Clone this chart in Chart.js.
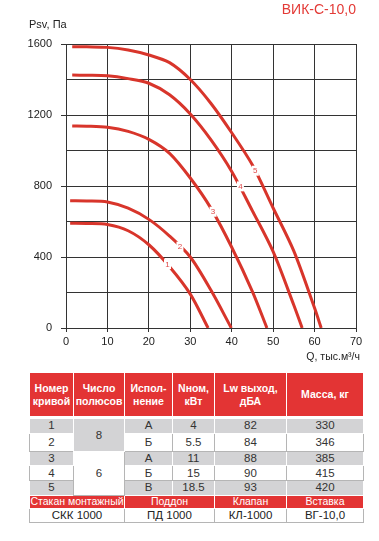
<!DOCTYPE html>
<html><head><meta charset="utf-8">
<script src="https://cdn.jsdelivr.net/npm/chart.js@4/dist/chart.umd.min.js"></script>
<style>
body{margin:0;background:#fff;}
#wrap{position:relative;width:379px;height:541px;overflow:hidden;font-family:"Liberation Sans",Arial,sans-serif;}
#c{position:absolute;left:0;top:0;}
#tbl{position:absolute;left:29px;top:372px;width:334px;border-collapse:collapse;table-layout:fixed;text-align:center;font-family:"Liberation Sans",Arial,sans-serif;}
#tbl td,#tbl th{padding:0;overflow:hidden;white-space:pre-line;vertical-align:middle;}
#tbl th{background:#e33434;color:#fff;font-weight:bold;font-size:10.5px;line-height:12.5px;border:1px solid #fff;border-bottom:3px solid #fff;}
#tbl td{font-size:11.5px;line-height:11px;color:#333;}
#tbl td.g{background:#d3d3d5;border:1px solid #fff;}
#tbl td.w{background:#fff;border:1px solid #b5b5b5;}
#tbl tr.red td{background:#e33434;color:#fff;border:1px solid #fff;font-size:10.5px;}
#tbl tr.last td{background:#fff;border:1px solid #b5b5b5;color:#222;}
</style></head>
<body><div id="wrap"><canvas id="c" width="379" height="368"></canvas><table id="tbl"></table></div>
<script>
// ---- chart data ----
const chartTitle = 'ВИК-С-10,0';
const yAxisCaption = 'Psv, Па';
const xAxisCaption = 'Q, тыс.м³/ч';
const xMin = 0, xMax = 70, xStep = 10;
const yMin = 0, yMax = 1600, yStep = 200, yLabelStep = 400;

const curve1Q = [1.0, 5, 10, 15, 20, 25, 30, 34.3];
const curve1P = [590, 589, 583, 548, 469, 345, 191, 0];
const curve2Q = [1.0, 5, 10, 15, 20, 25, 30, 35, 39.9];
const curve2P = [717, 716, 710, 675, 612, 518, 400, 212, 0];
const curve3Q = [1.5, 5, 10, 15, 20, 25, 30, 35, 40, 45, 48.5];
const curve3P = [1138, 1137, 1131, 1108, 1063, 984, 845, 674, 455, 205, 0];
const curve4Q = [1.5, 5, 10, 15, 20, 25, 30, 35, 40, 45, 50, 55, 57.0];
const curve4P = [1425, 1424, 1421, 1405, 1379, 1314, 1206, 1060, 882, 660, 430, 128, 0];
const curve5Q = [1.5, 5, 10, 15, 20, 25, 30, 35, 40, 45, 50, 55, 60, 61.6];
const curve5P = [1585, 1584, 1581, 1566, 1538, 1495, 1400, 1265, 1100, 918, 676, 433, 112, 0];

const curveLabels = ['1', '2', '3', '4', '5'];
const curveLabelQ = [24.5, 27.5, 35.5, 42.1, 45.7];
const curveLabelP = [360, 458, 655, 798, 886];

// ---- table data ----
const tableHeaders = ['Номер\nкривой', 'Число\nполюсов', 'Испол-\nнение', 'Nном,\nкВт', 'Lw выход,\nдБА', 'Масса, кг'];
const curveNumbers = ['1', '2', '3', '4', '5'];
const poles = ['8', '8', '6', '6', '6'];
const versions = ['А', 'Б', 'А', 'Б', 'В'];
const powers = ['4', '5.5', '11', '15', '18.5'];
const noiseLevels = ['82', '84', '88', '90', '93'];
const masses = ['330', '346', '385', '415', '420'];
const accessoryNames = ['Стакан монтажный', 'Поддон', 'Клапан', 'Вставка'];
const accessoryModels = ['СКК 1000', 'ПД 1000', 'КЛ-1000', 'ВГ-10,0'];

// ---- chart ----
const RED = '#d8352b';
const GRID = '#333';
function pts(qs, ps) { return qs.map((q, i) => ({x: q, y: ps[i]})); }
const curves = [[curve1Q, curve1P], [curve2Q, curve2P], [curve3Q, curve3P], [curve4Q, curve4P], [curve5Q, curve5P]];
const datasets = curves.map((c, i) => ({
  label: curveLabels[i],
  data: pts(c[0], c[1]),
  showLine: true,
  borderColor: RED,
  backgroundColor: RED,
  borderWidth: 3,
  pointRadius: 0,
  tension: 0.3,
  fill: false
}));

const FONT = '"Liberation Sans", Arial, sans-serif';

const decorPlugin = {
  id: 'decor',
  afterDatasetsDraw(chart) {
    const {ctx, scales: {x, y}} = chart;
    ctx.save();
    ctx.font = '8px ' + FONT;
    ctx.textAlign = 'center';
    ctx.textBaseline = 'middle';
    curveLabels.forEach((t, i) => {
      const px = x.getPixelForValue(curveLabelQ[i]);
      const py = y.getPixelForValue(curveLabelP[i]);
      ctx.fillStyle = '#fff';
      ctx.fillRect(px - 3.5, py - 5, 7, 10);
      ctx.fillStyle = '#e04a4a';
      ctx.fillText(t, px, py + 0.5);
    });
    ctx.restore();
  },
  afterDraw(chart) {
    const {ctx} = chart;
    ctx.save();
    ctx.fillStyle = '#222';
    ctx.font = '11px ' + FONT;
    ctx.textBaseline = 'alphabetic';
    ctx.textAlign = 'left';
    ctx.fillText(yAxisCaption, 29, 28);
    ctx.textAlign = 'right';
    ctx.font = '10.5px ' + FONT;
    ctx.fillText(xAxisCaption, 360, 360);
    ctx.restore();
  }
};

new Chart(document.getElementById('c'), {
  type: 'scatter',
  data: {datasets},
  options: {
    responsive: false,
    animation: false,
    devicePixelRatio: 1,
    layout: {padding: {left: 0, right: 23, top: 0, bottom: 0}},
    plugins: {
      legend: {display: false},
      tooltip: {enabled: false},
      title: {
        display: true, text: chartTitle, align: 'end', color: '#e33a36',
        font: {size: 14, family: FONT, weight: 'normal'},
        padding: {top: 2, bottom: 25.2}
      }
    },
    scales: {
      x: {
        type: 'linear', min: xMin, max: xMax,
        ticks: {stepSize: xStep, color: '#222', font: {size: 11, family: FONT}, padding: 3, maxRotation: 0},
        grid: {color: GRID, lineWidth: 1, tickLength: 4, tickColor: GRID},
        border: {color: GRID, width: 1},
        afterFit(s) { s.height = 40; }
      },
      y: {
        type: 'linear', min: yMin, max: yMax,
        ticks: {stepSize: yStep, color: '#222', font: {size: 11, family: FONT}, padding: 9,
          callback: v => (v % yLabelStep === 0 ? String(v) : '')},
        grid: {color: GRID, lineWidth: 1, tickLength: 5,
          tickColor: c => (c.tick && c.tick.value % yLabelStep === 0 ? GRID : 'rgba(0,0,0,0)')},
        border: {color: GRID, width: 1},
        afterFit(s) { s.width = 66; }
      }
    }
  },
  plugins: [decorPlugin]
});

// ---- table ----
(function buildTable() {
  const colW = [44, 51, 48, 42, 72, 77];
  const rowH = [15.5, 18.5, 14, 15, 14.5];
  const tbl = document.getElementById('tbl');
  let html = '<colgroup>' + colW.map(w => '<col style="width:' + w + 'px">').join('') + '</colgroup>';
  html += '<tr style="height:45px">' + tableHeaders.map(h => '<th>' + h + '</th>').join('') + '</tr>';
  for (let i = 0; i < curveNumbers.length; i++) {
    const cls = (i % 2 === 0) ? 'g' : 'w';
    html += '<tr style="height:' + rowH[i] + 'px">';
    html += '<td class="' + cls + '">' + curveNumbers[i] + '</td>';
    if (i === 0 || poles[i] !== poles[i - 1]) {
      let span = 1;
      while (i + span < poles.length && poles[i + span] === poles[i]) span++;
      const pcls = (poles[i] === poles[0]) ? 'g' : 'w';
      html += '<td class="' + pcls + '" rowspan="' + span + '">' + poles[i] + '</td>';
    }
    html += '<td class="' + cls + '">' + versions[i] + '</td>';
    html += '<td class="' + cls + '">' + powers[i] + '</td>';
    html += '<td class="' + cls + '">' + noiseLevels[i] + '</td>';
    html += '<td class="' + cls + '">' + masses[i] + '</td>';
    html += '</tr>';
  }
  const spans = [2, 2, 1, 1];
  html += '<tr class="red" style="height:13.5px">' + accessoryNames.map((n, i) => '<td colspan="' + spans[i] + '">' + n + '</td>').join('') + '</tr>';
  html += '<tr class="last" style="height:13.5px">' + accessoryModels.map((n, i) => '<td colspan="' + spans[i] + '">' + n + '</td>').join('') + '</tr>';
  tbl.innerHTML = html;
})();
</script>
</body></html>
